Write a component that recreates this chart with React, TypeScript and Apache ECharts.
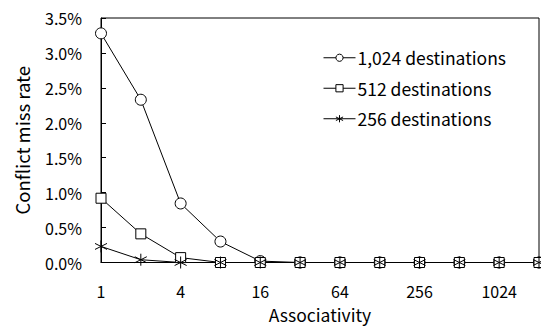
import React, { useEffect, useRef } from "react";
import * as echarts from "echarts";

const categories = ["1", "2", "4", "8", "16", "32", "64", "128", "256", "512", "1024", "2048"];
const dest1024 = [3.28, 2.33, 0.845, 0.3, 0.02, 0, 0, 0, 0, 0, 0, 0];
const dest512 = [0.92, 0.41, 0.07, 0, 0, 0, 0, 0, 0, 0, 0, 0];
const dest256 = [0.23, 0.04, 0, 0, 0, 0, 0, 0, 0, 0, 0, 0];
const seriesNames = ["1,024 destinations", "512 destinations", "256 destinations"];

const FONT = "'Noto Sans CJK JP', 'Noto Sans', sans-serif";
const STAR = "path://M0,-6L0,6M-5.2,-3L5.2,3M-5.2,3L5.2,-3";

export default function App() {
  const ref = useRef<HTMLDivElement>(null);
  useEffect(() => {
    if (!ref.current) return;
    const chart = echarts.init(ref.current, undefined, { renderer: "svg" });
    const mk = (name: string, data: number[], symbol: string, size: number) => ({
      name,
      type: "line",
      data,
      symbol,
      symbolSize: size,
      showAllSymbol: true,
      lineStyle: { color: "#000", width: 1 },
      itemStyle: { color: "#fff", borderColor: "#000", borderWidth: 1 },
      emphasis: { disabled: true },
      z: 3,
    });
    chart.setOption({
      animation: false,
      backgroundColor: "#fff",
      textStyle: { fontFamily: FONT },
      grid: {
        left: 101,
        right: 2,
        top: 18,
        bottom: 60,
        show: true,
        borderColor: "#000",
        borderWidth: 1,
        backgroundColor: "transparent",
        containLabel: false,
      },
      legend: {
        orient: "vertical",
        left: 318,
        top: 44,
        itemGap: 13,
        itemWidth: 32,
        itemHeight: 9,
        itemStyle: { color: "#fff", borderColor: "#000", borderWidth: 1 },
        lineStyle: { color: "#000", width: 1 },
        textStyle: { fontFamily: FONT, fontSize: 17.5, color: "#000", padding: [0, 0, 0, -3] },
        data: seriesNames,
      },
      xAxis: {
        type: "category",
        data: categories,
        boundaryGap: false,
        name: "Associativity",
        nameLocation: "middle",
        nameGap: 43,
        nameTextStyle: { fontFamily: FONT, fontSize: 17.5, color: "#000" },
        axisLine: { show: true, lineStyle: { color: "#000", width: 1 } },
        axisTick: { show: false },
        axisLabel: { interval: 1, margin: 20, fontFamily: FONT, fontSize: 16, color: "#000" },
        splitLine: { show: false },
      },
      yAxis: {
        type: "value",
        min: 0,
        max: 3.5,
        interval: 0.5,
        name: "Conflict miss rate",
        nameLocation: "middle",
        nameGap: 70,
        nameTextStyle: { fontFamily: FONT, fontSize: 18.5, color: "#000" },
        axisLine: { show: true, lineStyle: { color: "#000", width: 1 } },
        axisTick: { show: true, inside: true, length: 5, lineStyle: { color: "#000" } },
        axisLabel: {
          margin: 19,
          fontFamily: FONT,
          fontSize: 16,
          color: "#000",
          formatter: (v: number) => v.toFixed(1) + "%",
        },
        splitLine: { show: false },
      },
      series: [
        mk(seriesNames[0], dest1024, "circle", 11),
        mk(seriesNames[1], dest512, "rect", 10),
        mk(seriesNames[2], dest256, STAR, 12),
      ],
    });
    return () => chart.dispose();
  }, []);
  return (
    <div
      ref={ref}
      style={{ position: "fixed", left: 0, top: 0, width: 541, height: 328 }}
    />
  );
}
